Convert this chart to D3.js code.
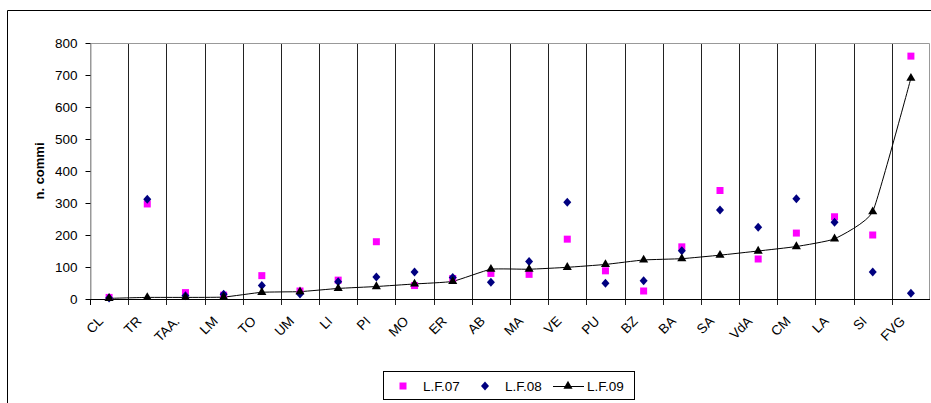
<!DOCTYPE html>
<html>
<head>
<meta charset="utf-8">
<script src="https://cdn.jsdelivr.net/npm/d3@7"></script>
<style>
  body { margin: 0; background: #fff; }
  text { font-family: "Liberation Sans", Arial, sans-serif; }
</style>
</head>
<body>
<svg id="chart" width="931" height="403"></svg>
<script>
// regions, ordered by L.F.09
var categories = ["CL", "TR", "TAA.", "LM", "TO", "UM", "LI", "PI", "MO", "ER", "AB",
                  "MA", "VE", "PU", "BZ", "BA", "SA", "VdA", "CM", "LA", "SI", "FVG"];
var lf07 = [5, 297, 20, 12, 73, 25, 59, 179, 42, 64, 80, 77, 187, 88, 25, 163, 339, 125, 206, 257, 200, 759];
var lf08 = [3, 312, 10, 15, 42, 16, 54, 69, 84, 67, 52, 117, 302, 49, 57, 151, 278, 224, 313, 240, 84, 18];
var lf09 = [2, 5, 5, 6, 21, 23, 33, 39, 47, 55, 93, 93, 99, 108, 122, 126, 137, 150, 164, 188, 273, 690];
var yTicks = [0, 100, 200, 300, 400, 500, 600, 700, 800];
var seriesNames = ["L.F.07", "L.F.08", "L.F.09"];

var svg = d3.select("#chart");

// outer chart frame (only left and top edge are in view)
svg.append("path")
    .attr("d", "M7.5,403V10.5H931")
    .attr("fill", "none")
    .attr("stroke", "#000");

var plot = {left: 90, top: 43, right: 930, bottom: 299};

var x = d3.scaleBand().domain(categories).range([plot.left, plot.right]);
var y = d3.scaleLinear().domain([0, 800]).range([plot.bottom, plot.top]);

// category separators
var g = svg.append("g");
var bounds = categories.map(function(c){ return x(c); });
g.selectAll(".sep").data(bounds.slice(1)).enter().append("line")
    .attr("x1", function(d){ return Math.round(d) + 0.5; })
    .attr("x2", function(d){ return Math.round(d) + 0.5; })
    .attr("y1", plot.top).attr("y2", plot.bottom + 6)
    .attr("stroke", "#222");

// plot border (grey top / right)
g.append("path")
    .attr("d", "M" + (plot.left + 0.5) + "," + plot.bottom + "V" + (plot.top + 0.5) + "H" + (plot.right - 0.5) + "V" + plot.bottom)
    .attr("fill", "none").attr("stroke", "#999");

// y axis
var yAxis = svg.append("g")
    .attr("transform", "translate(" + (plot.left + 0.5) + ",0)")
    .call(d3.axisLeft(y).tickValues(yTicks).tickSize(5).tickPadding(8).tickSizeOuter(0));
yAxis.select(".domain").attr("stroke", "#999");
yAxis.selectAll(".tick line").attr("stroke", "#000");
yAxis.selectAll("text").attr("font-size", "13.5px").attr("fill", "#000")
    .attr("font-family", "'Liberation Sans', Arial, sans-serif");

// zero line + tick under it
svg.append("line")
    .attr("x1", plot.left).attr("x2", plot.right)
    .attr("y1", plot.bottom + 0.5).attr("y2", plot.bottom + 0.5)
    .attr("stroke", "#000");
svg.append("line")
    .attr("x1", plot.left + 0.5).attr("x2", plot.left + 0.5)
    .attr("y1", plot.bottom).attr("y2", plot.bottom + 6)
    .attr("stroke", "#000");

// category labels, slanted
var xl = svg.selectAll(".xl").data(categories).enter().append("g")
    .attr("class", "xl")
    .attr("transform", function(d){
        return "translate(" + (x(d) + x.bandwidth() / 2 - 5) + "," + (plot.bottom + 23) + ")";
    });
xl.append("text")
    .attr("transform", "rotate(-45)")
    .attr("text-anchor", "end")
    .attr("font-size", "13.5px")
    .text(function(d){ return d; });

// y title
svg.append("text")
    .attr("transform", "translate(44," + ((plot.top + plot.bottom) / 2) + ") rotate(-90)")
    .attr("text-anchor", "middle")
    .attr("font-size", "13px")
    .attr("font-weight", "bold")
    .text("n. commi");

var cx = function(i){ return x(categories[i]) + x.bandwidth() / 2; };

// L.F.09 smoothed line
var line = d3.line()
    .x(function(d, i){ return cx(i); })
    .y(function(d){ return y(d); })
    .curve(d3.curveCardinal.tension(0.6));
svg.append("path")
    .attr("d", line(lf09))
    .attr("fill", "none")
    .attr("stroke", "#000")
    .attr("stroke-width", 1);

var sqr = d3.symbol().type(d3.symbolSquare).size(49);
var dia = "M0,-4.5L4,0L0,4.5L-4,0Z";
var tri = d3.symbol().type(d3.symbolTriangle).size(36);

svg.selectAll(".p07").data(lf07).enter().append("path")
    .attr("d", sqr)
    .attr("transform", function(d, i){ return "translate(" + cx(i) + "," + y(d) + ")"; })
    .attr("fill", "#ff00ff");

svg.selectAll(".p08").data(lf08).enter().append("path")
    .attr("d", dia)
    .attr("transform", function(d, i){ return "translate(" + cx(i) + "," + y(d) + ")"; })
    .attr("fill", "#000080");

svg.selectAll(".p09").data(lf09).enter().append("path")
    .attr("d", tri)
    .attr("transform", function(d, i){ return "translate(" + cx(i) + "," + y(d) + ")"; })
    .attr("fill", "#000");

// legend
var leg = svg.append("g");
leg.append("rect")
    .attr("x", 383.5).attr("y", 371.5).attr("width", 251).attr("height", 28)
    .attr("fill", "#fff").attr("stroke", "#000");
leg.append("path").attr("d", sqr).attr("transform", "translate(403,386)").attr("fill", "#ff00ff");
leg.append("path").attr("d", dia).attr("transform", "translate(485,386)").attr("fill", "#000080");
leg.append("line").attr("x1", 553).attr("x2", 584).attr("y1", 386.5).attr("y2", 386.5).attr("stroke", "#000");
leg.append("path").attr("d", tri).attr("transform", "translate(568,386)").attr("fill", "#000");
var lx = [423, 505, 587];
leg.selectAll(".lt").data(seriesNames).enter().append("text")
    .attr("x", function(d, i){ return lx[i]; })
    .attr("y", 391)
    .attr("font-size", "13.5px")
    .text(function(d){ return d; });
</script>
</body>
</html>
